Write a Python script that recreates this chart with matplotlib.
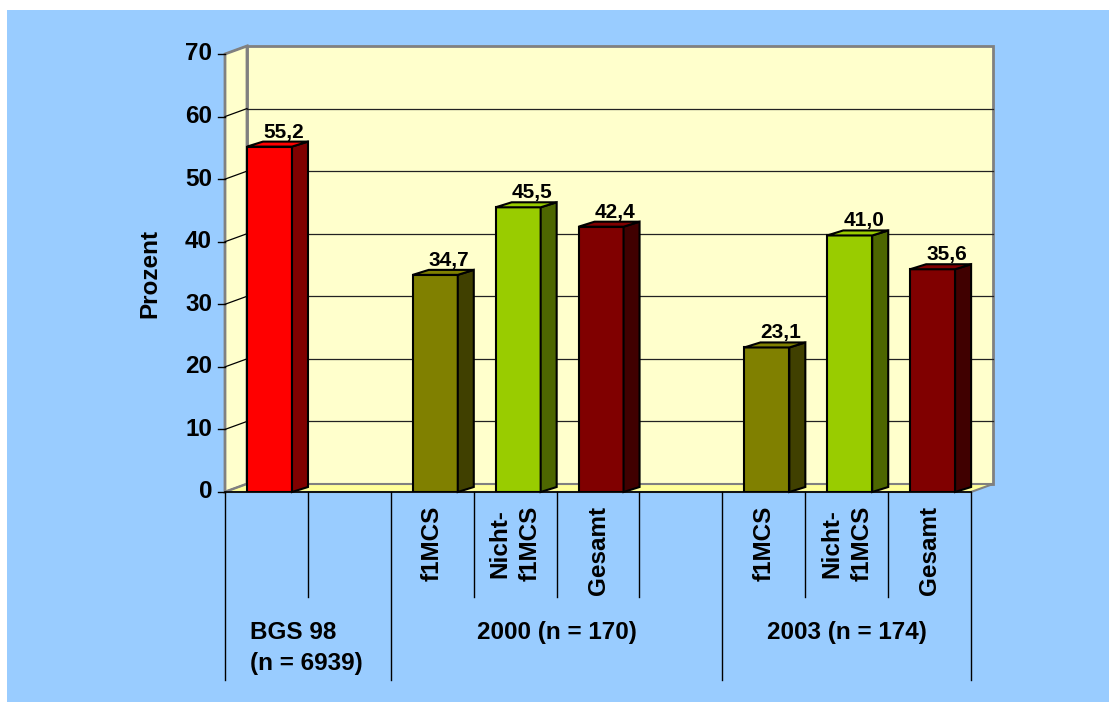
import matplotlib.pyplot as plt
from matplotlib.patches import Polygon, Rectangle

plt.rcParams['font.family'] = ['Liberation Sans', 'DejaVu Sans']
plt.rcParams['font.weight'] = 'bold'

# Daten
sub_labels = ["", "", "f1MCS", "Nicht-\nf1MCS", "Gesamt", "", "f1MCS", "Nicht-\nf1MCS", "Gesamt"]
bar_slots = [0, 2, 3, 4, 6, 7, 8]
values = [55.2, 34.7, 45.5, 42.4, 23.1, 41.0, 35.6]
front_colors = ['#FF0000', '#808000', '#99CC00', '#800000', '#808000', '#99CC00', '#800000']
side_colors = ['#800000', '#404000', '#4D6600', '#400000', '#404000', '#4D6600', '#400000']
group_labels = ["BGS 98\n(n = 6939)", "2000 (n = 170)", "2003 (n = 174)"]
group_bounds = [(0, 2), (2, 6), (6, 9)]
yticks = [0, 10, 20, 30, 40, 50, 60, 70]

W, H = 1109, 702
fig = plt.figure(figsize=(W / 100, H / 100), dpi=100, facecolor='white')
fig.patches.append(Rectangle((7 / W, 0), 1, 1 - 10 / H, transform=fig.transFigure,
                             facecolor='#99CCFF', edgecolor='none', zorder=-10))

# Frontebene des Diagramms in Pixeln
x0, x1, y0, y1 = 225, 971, 492, 54
ax = fig.add_axes([x0 / W, 1 - y0 / H, (x1 - x0) / W, (y0 - y1) / H])
n = len(sub_labels)
ax.set_xlim(0, n)
ax.set_ylim(0, 70)
ax.axis('off')

px_x = (x1 - x0) / n      # Pixel je Kategorie
px_y = (y0 - y1) / 70     # Pixel je Prozent
def dx(p): return p / px_x
def dy(p): return p / px_y

# Waende und Boden (3D-Effekt)
wx, wy = dx(22), dy(8)
wall = '#FFFFCC'
gray = '#808080'
ax.add_patch(Rectangle((wx, wy), n, 70, facecolor=wall, edgecolor=gray, lw=2, clip_on=False, zorder=1))
ax.add_patch(Polygon([(0, 0), (wx, wy), (wx, 70 + wy), (0, 70)], facecolor=wall,
                     edgecolor=gray, lw=2, clip_on=False, zorder=1))
ax.add_patch(Polygon([(0, 0), (n, 0), (n + wx, wy), (wx, wy)], facecolor='#FFFF99',
                     edgecolor=gray, lw=1.5, clip_on=False, zorder=1))

for t in yticks[1:-1]:
    ax.plot([wx, n + wx], [t + wy, t + wy], color='#222222', lw=0.9, zorder=2, clip_on=False)
for t in yticks:
    ax.plot([0, wx], [t, t + wy], color='black' if t not in (0, 70) else gray,
            lw=0.9, zorder=2, clip_on=False)
    ax.plot([-dx(7), 0], [t, t], color='black', lw=1, zorder=2, clip_on=False)
    ax.annotate(str(t), xy=(0, t), xytext=(-13, 0), textcoords='offset pixels',
                ha='right', va='center', fontsize=17.5, fontweight='bold', annotation_clip=False)

ax.plot([0, n], [0, 0], color='black', lw=1.2, zorder=3, clip_on=False)

# Saeulen
bx, by = dx(16), dy(5)
bw = dx(45)
for s, v, fc, sc in zip(bar_slots, values, front_colors, side_colors):
    left = s + dx(22)
    right = left + bw
    ax.bar(left + bw / 2, v, width=bw, color=fc, edgecolor='black', lw=1.5, zorder=5)
    ax.add_patch(Polygon([(right, 0), (right + bx, by), (right + bx, v + by), (right, v)],
                         facecolor=sc, edgecolor='black', lw=1.5, zorder=5, clip_on=False))
    ax.add_patch(Polygon([(left, v), (left + bx, v + by), (right + bx, v + by), (right, v)],
                         facecolor=fc, edgecolor='black', lw=1.5, zorder=5, clip_on=False))
    ax.annotate(f"{v:.1f}".replace('.', ','), xy=(left + bw / 2, v), xytext=(14, 9),
                textcoords='offset pixels', ha='center', va='baseline',
                fontsize=15, fontweight='bold', zorder=6, annotation_clip=False)

# Kategorientabelle unter der Achse
short_y, long_y = dy(492 - 597), dy(492 - 680)
long_lines = [b for g in group_bounds for b in g]
for i in range(n + 1):
    ax.plot([i, i], [0, long_y if i in long_lines else short_y], color='black',
            lw=1, clip_on=False, zorder=3)
for i, lab in enumerate(sub_labels):
    if lab:
        ax.text(i + 0.5, dy(492 - 506), lab, rotation=90, ha='center', va='top',
                multialignment='center', fontsize=17.5, fontweight='bold', linespacing=1.4)
for lab, (a, b) in zip(group_labels, group_bounds):
    if '\n' in lab:
        ax.text(a + dx(25), dy(492 - 648), lab, ha='left', va='center', multialignment='left',
                fontsize=17.5, fontweight='bold', linespacing=1.45)
    else:
        ax.text((a + b) / 2, dy(492 - 632), lab, ha='center', va='center',
                fontsize=17.5, fontweight='bold')

ax.text(dx(150 - 225), 35, "Prozent", rotation=90, ha='center', va='center',
        fontsize=17.5, fontweight='bold')

fig.savefig('out.png', dpi=100, facecolor=fig.get_facecolor())
